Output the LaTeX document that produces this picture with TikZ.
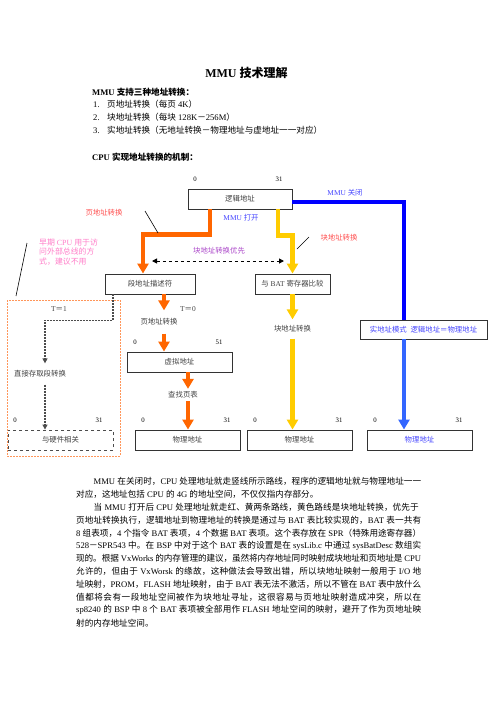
\documentclass[tikz,border=0pt]{standalone}
\usepackage{fontspec}
\setmainfont{Liberation Serif}
\newfontfamily\cjkfont{Noto Sans CJK SC}
\usetikzlibrary{arrows.meta}

% 汉字自动切换字体
\XeTeXinterchartokenstate=1
\newXeTeXintercharclass\cjkclass
\makeatletter
\def\setcjkrange#1#2{\count@=#1\relax
  \loop\XeTeXcharclass\count@=\cjkclass
  \ifnum\count@<#2\relax\advance\count@ by 1\repeat}
\makeatother
\setcjkrange{"3000}{"303F}
\setcjkrange{"4E00}{"9FFF}
\setcjkrange{"FF00}{"FFEF}
\XeTeXinterchartoks 0 \cjkclass = {\begingroup\cjkfont}
\XeTeXinterchartoks 4095 \cjkclass = {\begingroup\cjkfont}
\XeTeXinterchartoks \cjkclass 0 = {\endgroup}
\XeTeXinterchartoks \cjkclass 4095 = {\endgroup}
\XeTeXinterchartoks \cjkclass \cjkclass = {\hskip 0pt plus 0.15em minus 0.03em\relax}

% 字号
\newcommand{\titlefont}{\fontsize{12}{14}\selectfont\bfseries}
\newcommand{\bodyfont}{\fontsize{8.6}{10}\selectfont}
\newcommand{\diagfont}{\fontsize{7.4}{9}\selectfont}
\newcommand{\numfont}{\fontsize{6.8}{8}\selectfont}

\begin{document}
\begin{tikzpicture}[x=1pt,y=-1pt]
    % 定义颜色
    \definecolor{pageorange}{RGB}{255,102,0}
    \definecolor{batyellow}{RGB}{255,204,0}
    \definecolor{offblue}{RGB}{0,0,255}
    \definecolor{realblue}{RGB}{51,102,255}
    \definecolor{notered}{RGB}{255,80,80}
    \definecolor{noteblue}{RGB}{70,70,255}
    \definecolor{notepurple}{RGB}{170,70,200}
    \definecolor{notepink}{RGB}{255,125,200}
    \definecolor{hworange}{RGB}{255,150,90}

    % --- 设置样式 ---
    \tikzset{
        addrbox/.style = {
            draw=black!80,          % 边框颜色
            line width=0.9pt,       % 边框粗细
            minimum height=20pt,    % 高度
            inner sep=0pt,
            font=\diagfont,
            text=black!75
        },
        hwbox/.style = {addrbox, draw=black!70, dashed},
        numlabel/.style = {font=\numfont, inner sep=0pt},
        steplabel/.style = {font=\diagfont, text=black!75, inner xsep=0pt},
        bodyline/.style = {font=\bodyfont, inner sep=0pt, anchor=west},
        thickarrow/.style = {line width=4.5pt, -{Triangle[width=11pt,length=10pt]}},
        pagearrow/.style = {thickarrow, color=pageorange},
        blockarrow/.style = {thickarrow, color=batyellow},
        offline/.style = {line width=4.5pt, color=offblue},
        realarrow/.style = {thickarrow, color=realblue},
        segline/.style = {line width=1.5pt, color=black!70, dashed,
            dash pattern=on 2pt off 1pt, -{Triangle[width=5pt,length=5pt]}},
        leader/.style = {line width=0.6pt, black}
    }

    \useasboundingbox (0,0) rectangle (496,702);

    % --- 标题与列表 ---
    \node[font=\titlefont] (title) at (246.5,73) {MMU 技术理解};
    \node[bodyline, font=\bodyfont\bfseries] (support) at (92,92) {MMU 支持三种地址转换：};
    \node[bodyline] (num1) at (93,104.5) {1.};
    \node[bodyline] (item1) at (107,104.5) {页地址转换（每页 4K）};
    \node[bodyline] (num2) at (93,117.5) {2.};
    \node[bodyline] (item2) at (107,117.5) {块地址转换（每块 128K－256M）};
    \node[bodyline] (num3) at (93,130.5) {3.};
    \node[bodyline] (item3) at (107,130.5) {实地址转换（无地址转换－物理地址与虚地址一一对应）};
    \node[bodyline, font=\bodyfont\bfseries] (mech) at (92,157) {CPU 实现地址转换的机制：};

    % --- 地址框 ---
    \node[addrbox, minimum width=104pt] (logic) at (240,199) {逻辑地址};
    \node[addrbox, minimum width=90pt] (seg) at (150,284) {段地址描述符};
    \node[addrbox, minimum width=75pt] (bat) at (292.5,284) {与 BAT 寄存器比较};
    \node[addrbox, minimum width=105pt] (virt) at (179.5,362) {虚拟地址};
    \node[addrbox, minimum width=127pt, minimum height=19pt, text=noteblue] (real) at (423.5,329.5) {实地址模式\ \ 逻辑地址＝物理地址};
    \node[hwbox, minimum width=105pt] (hw) at (60.5,440) {与硬件相关};
    \node[addrbox, minimum width=105pt] (phys1) at (187.5,440) {物理地址};
    \node[addrbox, minimum width=105pt] (phys2) at (299.5,440) {物理地址};
    \node[addrbox, minimum width=105pt, text=noteblue] (phys3) at (419.5,440) {物理地址};

    % 位号
    \node[numlabel] (logic0) at (195,179) {0};
    \node[numlabel] (logic31) at (279,179) {31};
    \node[numlabel] (virt0) at (135,342) {0};
    \node[numlabel] (virt51) at (219,342) {51};
    \node[numlabel] (hw0) at (15,420) {0};
    \node[numlabel] (hw31) at (99,420) {31};
    \node[numlabel] (phys10) at (143,420) {0};
    \node[numlabel] (phys131) at (227,420) {31};
    \node[numlabel] (phys20) at (255,420) {0};
    \node[numlabel] (phys231) at (339,420) {31};
    \node[numlabel] (phys30) at (375,420) {0};
    \node[numlabel] (phys331) at (459,420) {31};

    % --- 说明文字 ---
    \node[font=\diagfont, text=notered] (pagenote) at (104,213) {页地址转换};
    \node[font=\diagfont, text=notered] (blocknote) at (339,238) {块地址转换};
    \node[font=\diagfont, text=noteblue] (onnote) at (241,218) {MMU 打开};
    \node[font=\diagfont, text=noteblue] (offnote) at (345,193) {MMU 关闭};
    \node[font=\diagfont, text=notepurple] (prionote) at (219,251) {块地址转换优先};
    \node[font=\fontsize{7.9}{9}\selectfont, text=notepink, align=left, anchor=north west, inner sep=0pt]
        (earlynote) at (39,238.5) {早期 CPU 用于访\\[0.5pt]问外部总线的方\\[0.5pt]式，建议不用};
    \node[font=\diagfont, text=black!75] (t1) at (59,309) {T＝1};
    \node[font=\diagfont, text=black!75] (t0) at (188,309) {T＝0};
    \node[steplabel, inner ysep=8pt] (pagestep) at (159,322) {页地址转换};
    \node[steplabel, inner ysep=2.5pt] (lookup) at (183,395) {查找页表};
    \node[steplabel, inner ysep=6pt] (blockstep) at (292.5,329) {块地址转换};
    \node[steplabel, inner ysep=7pt] (direct) at (40,374) {直接存取段转换};

    % 辅助坐标
    \coordinate (pagecol) at (164,0);
    \coordinate (lookcol) at (188,0);
    \coordinate (directcol) at (45,0);
    \coordinate (realcol) at (404,0);
    \coordinate (prioL) at (152,261);
    \coordinate (prioR) at (284,261);
    \coordinate (pageleadA) at (145,211);
    \coordinate (pageleadB) at (158,233);
    \coordinate (blockleadA) at (309,237);
    \coordinate (blockleadB) at (297,249);
    \coordinate (earlyleadA) at (27,243);
    \coordinate (earlyleadB) at (16,296);

    % 段转换区域
    \draw[hworange, line width=0.8pt, dash pattern=on 2pt off 1pt] (7,300) rectangle (120,456);

    % --- 连线 ---
    \draw[pagearrow] ([xshift=-30pt]logic.south) -- ++(0,25) -| ([xshift=-7pt]seg.north);
    \draw[blockarrow] ([xshift=38pt]logic.south) -- ++(0,26) -| (bat.north);
    \draw[offline] ([yshift=-3pt]logic.east) -| (real.north -| realcol);
    \draw[realarrow] (real.south -| realcol) -- (phys3.north -| realcol);

    \draw[pagearrow] (seg.south -| pagecol) -- (pagestep.north -| pagecol);
    \draw[pagearrow] (pagestep.south -| pagecol) -- (virt.north -| pagecol);
    \draw[pagearrow] (virt.south -| lookcol) -- (lookup.north -| lookcol);
    \draw[pagearrow] (lookup.south -| lookcol) -- (phys1.north -| lookcol);

    \draw[blockarrow] (bat.south) -- (blockstep.north);
    \draw[blockarrow] (blockstep.south) -- (blockstep.south |- phys2.north);

    \draw[segline] ([xshift=-37pt]seg.south) -- ++(0,26) -| (direct.north -| directcol);
    \draw[segline] (direct.south -| directcol) -- (hw.north -| directcol);

    \draw[line width=1pt, dashed, {Triangle[width=5pt,length=5pt]}-{Triangle[width=5pt,length=5pt]}] (prioL) -- (prioR);

    \draw[leader] (pageleadA) -- (pageleadB);
    \draw[leader] (blockleadA) -- (blockleadB);
    \draw[leader] (earlyleadA) -- (earlyleadB);

    % --- 正文 ---
    \node[bodyline] (line1) at (93.5,481.5) {\hbox to 327.5pt{MMU 在关闭时，CPU 处理地址就走竖线所示路线，程序的逻辑地址就与物理地址一一}};
    \node[bodyline] (line2) at (76,494.35) {对应，这地址包括 CPU 的 4G 的地址空间，不仅仅指内存部分。};
    \node[bodyline] (line3) at (93.5,507.2) {\hbox to 325pt{当 MMU 打开后 CPU 处理地址就走红、黄两条路线，黄色路线是块地址转换，优先于}};
    \node[bodyline] (line4) at (76,520.05) {\hbox to 345pt{页地址转换执行，逻辑地址到物理地址的转换是通过与 BAT 表比较实现的，BAT 表一共有}};
    \node[bodyline] (line5) at (76,532.9) {\hbox to 345pt{8 组表项，4 个指令 BAT 表项，4 个数据 BAT 表项。这个表存放在 SPR（特殊用途寄存器）}};
    \node[bodyline] (line6) at (76,545.75) {\hbox to 345pt{528－SPR543 中。在 BSP 中对于这个 BAT 表的设置是在 sysLib.c 中通过 sysBatDesc 数组实}};
    \node[bodyline] (line7) at (76,558.6) {\hbox to 345pt{现的。根据 VxWorks 的内存管理的建议，虽然将内存地址同时映射成块地址和页地址是 CPU}};
    \node[bodyline] (line8) at (76,571.45) {\hbox to 345pt{允许的，但由于 VxWorsk 的缘故，这种做法会导致出错，所以块地址映射一般用于 I/O 地}};
    \node[bodyline] (line9) at (76,584.3) {\hbox to 345pt{址映射，PROM，FLASH 地址映射，由于 BAT 表无法不激活，所以不管在 BAT 表中放什么}};
    \node[bodyline] (line10) at (76,597.15) {\hbox to 345pt{值都将会有一段地址空间被作为块地址寻址，这很容易与页地址映射造成冲突，所以在}};
    \node[bodyline] (line11) at (76,610) {\hbox to 345pt{sp8240 的 BSP 中 8 个 BAT 表项被全部用作 FLASH 地址空间的映射，避开了作为页地址映}};
    \node[bodyline] (line12) at (76,622.85) {射的内存地址空间。};

\end{tikzpicture}
\end{document}
